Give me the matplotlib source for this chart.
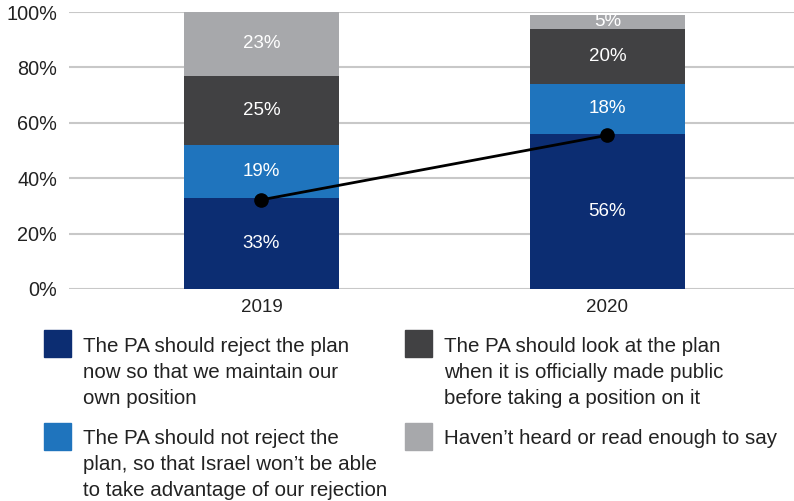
import matplotlib.pyplot as plt
from matplotlib.patches import Rectangle
import numpy as np

plt.rcParams['font.family'] = ['Liberation Sans', 'DejaVu Sans']

# survey waves and stacked answer shares (%)
years = ['2019', '2020']
reject_now = [33, 56]
not_reject = [19, 18]
wait_public = [25, 20]
not_enough = [23, 5]
# trend line through the "reject now" share
trend_vals = [32.2, 55.5]

series = [reject_now, not_reject, wait_public, not_enough]
colors = ['#0c2d72', '#1f74bd', '#414143', '#a7a8ab']
labels = ['The PA should reject the plan\nnow so that we maintain our\nown position',
          'The PA should not reject the\nplan, so that Israel won\u2019t be able\nto take advantage of our rejection',
          'The PA should look at the plan\nwhen it is officially made public\nbefore taking a position on it',
          'Haven\u2019t heard or read enough to say']

W, H = 794, 501
fig = plt.figure(figsize=(W / 100, H / 100), dpi=100)

def fx(px):
    return px / W

def fy(py):
    return 1 - py / H

ax = fig.add_axes([fx(69), fy(289), fx(794) - fx(69), fy(12) - fy(289)])

x = np.arange(len(years))
bottom = np.zeros(len(years))
for vals, c in zip(series, colors):
    vals = np.array(vals, dtype=float)
    ax.bar(x, vals, width=0.448, bottom=bottom, color=c, zorder=2)
    for xi, b, v in zip(x, bottom, vals):
        ax.text(xi, b + v / 2, '%d%%' % v, ha='center', va='center',
                color='white', fontsize=13.5, zorder=4)
    bottom += vals

ax.plot(x, trend_vals, color='black', lw=2, marker='o', markersize=9.5, zorder=5)

ax.set_xlim(-0.556, 1.539)
ax.set_ylim(0, 100)
ax.set_yticks(np.arange(0, 101, 20))
ax.set_yticklabels(['%d%%' % v for v in range(0, 101, 20)])
ax.set_xticks(x)
ax.set_xticklabels(years)
ax.tick_params(axis='y', length=0, pad=8.5, labelsize=14.3, labelcolor='#222222')
ax.tick_params(axis='x', length=0, pad=7, labelsize=13.5, labelcolor='#222222')
ax.grid(axis='y', color='#c8c8c8', lw=1.5, zorder=0)
ax.set_axisbelow(True)
for s in ax.spines.values():
    s.set_visible(False)

# legend drawn by hand in two columns
squares = [(44, 330), (44, 423), (405, 330), (405, 423)]
baselines = [352, 444, 352, 444]
for (sx, sy), base, lab, c in zip(squares, baselines, labels, colors):
    fig.patches.append(Rectangle((fx(sx), fy(sy + 27)), fx(27), 27 / H,
                                 transform=fig.transFigure, color=c))
    for i, line in enumerate(lab.split('\n')):
        fig.text(fx(sx + 39), fy(base + 26 * i), line, fontsize=14.8,
                 color='#222222', va='baseline', ha='left')

fig.savefig('out.png', dpi=100)
